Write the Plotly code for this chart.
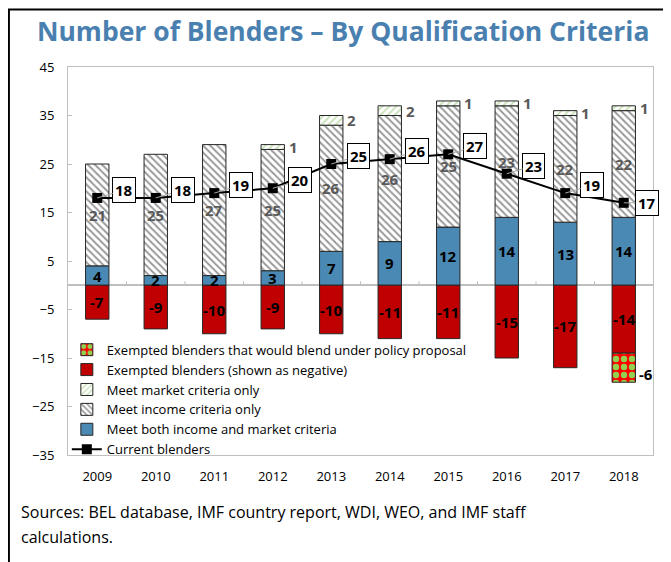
import plotly.graph_objects as go

years = ["2009", "2010", "2011", "2012", "2013", "2014", "2015", "2016", "2017", "2018"]
both_criteria = [4, 2, 2, 3, 7, 9, 12, 14, 13, 14]
income_only = [21, 25, 27, 25, 26, 26, 25, 23, 22, 22]
market_only = [0, 0, 0, 1, 2, 2, 1, 1, 1, 1]
exempted = [-7, -9, -10, -9, -10, -11, -11, -15, -17, -14]
exempted_proposal = [0, 0, 0, 0, 0, 0, 0, 0, 0, -6]
current_blenders = [18, 18, 19, 20, 25, 26, 27, 23, 19, 17]

FONT = "Open Sans, Noto Sans, DejaVu Sans, sans-serif"
BLUE = "#4a89b3"
RED = "#c00000"
OUTLINE = dict(color="#262626", width=1)

xpos = list(range(len(years)))


def nz(vals):
    return [v if v != 0 else None for v in vals]


fig = go.Figure()

fig.add_trace(go.Bar(
    x=xpos, y=both_criteria, name="Meet both income and market criteria",
    marker=dict(color=BLUE, line=OUTLINE), legendrank=5))
fig.add_trace(go.Bar(
    x=xpos, y=income_only, name="Meet income criteria only",
    marker=dict(color="white", line=OUTLINE,
                pattern=dict(shape="\\", fgcolor="#333333", bgcolor="white",
                             size=5, solidity=0.4)), legendrank=4))
fig.add_trace(go.Bar(
    x=xpos, y=nz(market_only), name="Meet market criteria only",
    marker=dict(color="white", line=OUTLINE,
                pattern=dict(shape="/", fgcolor="#8fc46a", bgcolor="white",
                             size=5, solidity=0.35)), legendrank=3))
fig.add_trace(go.Bar(
    x=xpos, y=exempted, name="Exempted blenders (shown as negative)",
    marker=dict(color=RED, line=OUTLINE), legendrank=2))
fig.add_trace(go.Bar(
    x=xpos, y=nz(exempted_proposal),
    name="Exempted blenders that would blend under policy proposal",
    marker=dict(color="#ff0000", line=OUTLINE,
                pattern=dict(shape=".", fgcolor="#92d050", bgcolor="#ff0000",
                             size=8, solidity=0.5, fillmode="replace")),
    legendrank=1))
fig.add_trace(go.Scatter(
    x=xpos, y=current_blenders, name="Current blenders", mode="lines+markers",
    line=dict(color="black", width=2),
    marker=dict(symbol="square", size=10, color="black"), legendrank=6))

ann = []
lbl_font = dict(family=FONT, size=15, color="black", weight="bold")
grey_font = dict(family=FONT, size=15, color="#595959", weight="bold")
for i in xpos:
    b, inc, m, e, p = both_criteria[i], income_only[i], market_only[i], exempted[i], exempted_proposal[i]
    ann.append(dict(x=i, y=b / 2, text=str(b), showarrow=False, font=lbl_font))
    ann.append(dict(x=i, y=b + inc / 2, text=str(inc), showarrow=False, font=grey_font))
    if m:
        ann.append(dict(x=i, y=b + inc + m / 2, text=str(m), showarrow=False,
                        font=grey_font, xanchor="left", xshift=14))
    ann.append(dict(x=i, y=e / 2, text=str(e), showarrow=False, font=lbl_font))
    if p:
        ann.append(dict(x=i, y=e + p / 2, text=str(p), showarrow=False,
                        font=lbl_font, xanchor="left", xshift=13, yshift=-6))
    last = i == len(years) - 1
    ann.append(dict(x=i, y=current_blenders[i], text=str(current_blenders[i]),
                    showarrow=True, arrowhead=0, arrowcolor="#a6a6a6", arrowwidth=1,
                    ax=23 if last else 27, ay=0 if last else -8, standoff=0,
                    bgcolor="white", bordercolor="black", borderwidth=1, borderpad=2,
                    font=lbl_font))

ann.append(dict(xref="paper", yref="paper", x=-0.0836, y=-0.147, xanchor="left",
                yanchor="middle", showarrow=False,
                text="Sources: BEL database, IMF country report, WDI, WEO, and IMF staff",
                font=dict(family=FONT, size=16, color="black")))
ann.append(dict(xref="paper", yref="paper", x=-0.0836, y=-0.211, xanchor="left",
                yanchor="middle", showarrow=False, text="calculations.",
                font=dict(family=FONT, size=16, color="black")))

shapes = [dict(type="rect", xref="paper", yref="paper", x0=-0.101, x1=1.2,
               y0=-0.6, y1=1.148, line=dict(color="black", width=2), layer="above")]
for i in xpos[:-1]:
    shapes.append(dict(type="line", xref="x", yref="y", x0=i + 0.5, x1=i + 0.5,
                       y0=0, y1=0.8, line=dict(color="#bfbfbf", width=1)))

fig.update_layout(
    width=671, height=562, autosize=False,
    margin=dict(l=60, r=26, t=59, b=115),
    paper_bgcolor="white", plot_bgcolor="white",
    barmode="relative", bargap=0.6,
    title=dict(text="Number of Blenders – By Qualification Criteria",
               x=0.4995, xanchor="center", y=0.958, yanchor="middle",
               font=dict(family=FONT, size=26.5, color="#4a80b0", weight="bold")),
    font=dict(family=FONT, color="black"),
    showlegend=True,
    legend=dict(x=-0.002, y=0.31, xanchor="left", yanchor="top",
                traceorder="normal", bgcolor="rgba(0,0,0,0)",
                font=dict(family=FONT, size=13, color="black"),
                tracegroupgap=0, itemwidth=30),
    annotations=ann, shapes=shapes,
    xaxis=dict(range=[-0.5, len(years) - 0.5], tickvals=xpos, ticktext=years,
               showgrid=False, showline=True, mirror=True, zeroline=False,
               linecolor="#bfbfbf", ticks="",
               tickfont=dict(family=FONT, size=13, color="black"),
               ticklabelstandoff=9),
    yaxis=dict(range=[-35, 45], tick0=5, dtick=10, showgrid=False,
               showline=True, mirror=True, linecolor="#bfbfbf",
               zeroline=True, zerolinecolor="#bfbfbf", zerolinewidth=1.5,
               ticks="inside", ticklen=4, tickcolor="#bfbfbf",
               tickfont=dict(family=FONT, size=13, color="black"),
               ticklabelstandoff=10),
)

fig.write_html("out.html")
